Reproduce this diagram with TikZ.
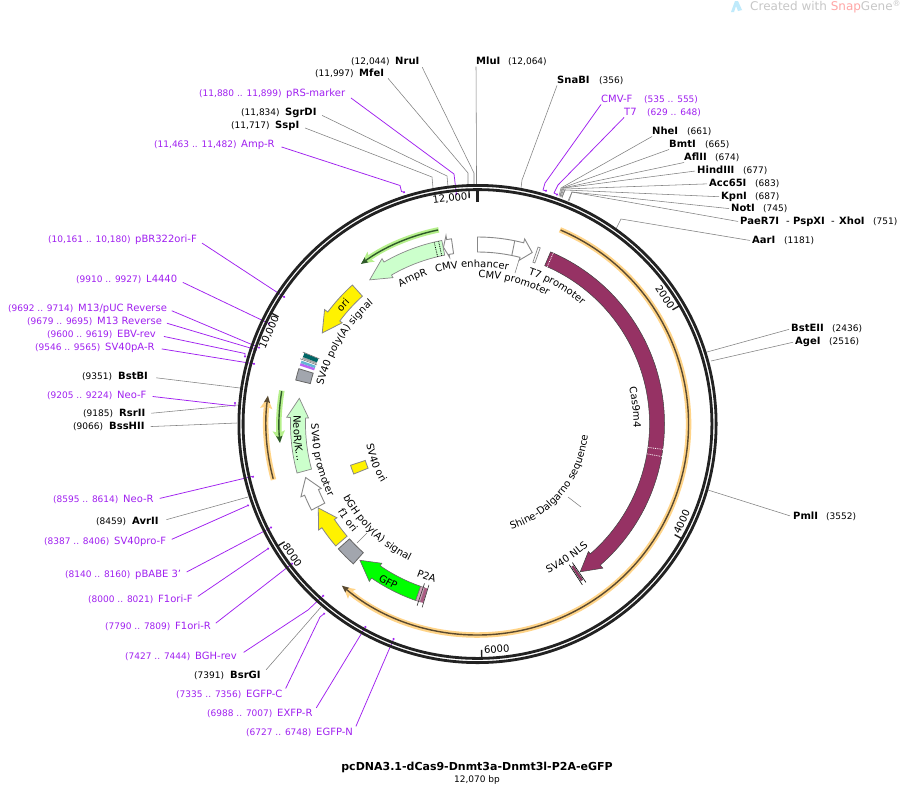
\documentclass[tikz,border=0pt]{standalone}
\usepackage{fontspec}
\setmainfont{DejaVu Sans}
\usetikzlibrary{arrows.meta,decorations.text}
\definecolor{purp}{HTML}{A020F0}
\definecolor{ringc}{HTML}{222222}
\definecolor{featline}{HTML}{888888}
\definecolor{casc}{HTML}{963264}
\definecolor{ampg}{HTML}{CCFFCC}
\definecolor{grayf}{HTML}{A2A6AE}
\definecolor{orL}{HTML}{FFD488}
\definecolor{orD}{HTML}{5A4A30}
\definecolor{grL}{HTML}{B6F08C}
\definecolor{grD}{HTML}{2F5A2A}
\newcommand\fs[1]{\fontsize{#1}{#1}\selectfont}
\tikzset{
  numg/.style={anchor=west,inner sep=0pt,text height=7pt,text depth=2pt,font=\fs{9},yshift=-0.8pt},
  nump/.style={numg,text=purp},
  nameg/.style={anchor=west,inner sep=0pt,text height=7pt,text depth=2pt,font=\fs{10}\bfseries,yshift=-0.8pt},
  namep/.style={anchor=west,inner sep=0pt,text height=7pt,text depth=2pt,font=\fs{10},text=purp,yshift=-0.8pt},
  gline/.style={draw=black!50,line width=0.55pt},
  pline/.style={draw=purp,line width=0.75pt,-{Circle[length=2pt,width=2pt]}},
  leader/.style={draw=black!50,line width=0.55pt},
  fwhite/.style={draw=featline,fill=white,line width=0.9pt,line join=miter},
  fgreen/.style={draw=featline,fill=ampg,line width=0.7pt},
  fyellow/.style={draw=featline,fill=yellow,line width=0.8pt},
  fgray/.style={draw=black!60,fill=grayf,line width=0.8pt},
  fgfp/.style={draw=black!60,fill=green,line width=0.6pt},
  fcas/.style={draw=black!75,fill=casc,line width=0.5pt},
  ticklab/.style={inner sep=0pt,font=\fs{10}},
}
% feature arrow: style, start, end of body, tip (clock angles)
\newcommand\farrow[4]{%
  \pgfmathsetmacro\Aa{90-#2}\pgfmathsetmacro\Ab{90-#3}\pgfmathsetmacro\At{90-#4}%
  \draw[#1] (\Aa:172pt) arc[start angle=\Aa,end angle=\Ab,radius=172pt] -- (\Ab:169pt) -- (\At:180pt) -- (\Ab:191pt) -- (\Ab:187pt) arc[start angle=\Ab,end angle=\Aa,radius=187pt] -- cycle;}
% annular box: style, a1, a2, r1, r2
\newcommand\fbx[5]{%
  \pgfmathsetmacro\Aa{90-#2}\pgfmathsetmacro\Ab{90-#3}%
  \draw[#1] (\Aa:#4pt) arc[start angle=\Aa,end angle=\Ab,radius=#4pt] -- (\Ab:#5pt) arc[start angle=\Ab,end angle=\Aa,radius=#5pt] -- cycle;}
% radial line: style, a, r1, r2
\newcommand\rad[4]{\pgfmathsetmacro\Aa{90-#2}\draw[#1] (\Aa:#3pt) -- (\Aa:#4pt);}
% arc with style: style, a1, a2, r
\newcommand\arcf[4]{%
  \pgfmathsetmacro\Aa{90-#2}\pgfmathsetmacro\Ab{90-#3}%
  \draw[#1] (\Aa:#4pt) arc[start angle=\Aa,end angle=\Ab,radius=#4pt];}
% curved text: radius, a1, a2, text
\newcommand\ctxt[4]{%
  \pgfmathsetmacro\Aa{90-#2}\pgfmathsetmacro\Ab{90-#3}%
  \path[decorate,decoration={text along path,text align=center,text={|\fs{10}|#4}}] (\Aa:#1pt) arc[start angle=\Aa,end angle=\Ab,radius=#1pt];}
% connector: style, node, anchor, middle, end
\newcommand\lk[5]{\coordinate (#2-end) at (#5); \draw[#1] (#2.#3) -- #4 (#2-end);}
\begin{document}
\begin{tikzpicture}[x=1pt,y=1pt]
\useasboundingbox (0,0) rectangle (901,-806);
\fill[white] (0,0) rectangle (901,-806);

% watermark
\fill[cyan!25] (731,-12) -- (735,-1) -- (738,-1) -- (742,-10) -- (738,-11) -- (736,-6) -- (734,-12) -- cycle;
\node[anchor=west,inner sep=0pt,font=\fs{12},text=black!22] (wm) at (750,-7) {Created with \textcolor{red!35}{Snap}Gene\textsuperscript{®}};

% title
\node[inner sep=0pt,font=\fs{11}\bfseries] (title) at (477,-767.5) {pcDNA3.1-dCas9-Dnmt3a-Dnmt3l-P2A-eGFP};
\node[inner sep=0pt,font=\fs{9}] (size) at (477,-780) {12,070 bp};

% site labels, top
\node[numg] (nruiN) at (351,-61) {(12,044)};
\node[nameg] (nrui) at (395,-61) {NruI};
\node[numg] (mfeiN) at (315,-73) {(11,997)};
\node[nameg] (mfei) at (359,-73) {MfeI};
\node[nump] (prsN) at (199,-93) {(11,880 .. 11,899)};
\node[namep] (prs) at (286,-93) {pRS-marker};
\node[numg] (sgrN) at (241,-112) {(11,834)};
\node[nameg] (sgr) at (285,-112) {SgrDI};
\node[numg] (sspN) at (231,-125) {(11,717)};
\node[nameg] (ssp) at (275,-125) {SspI};
\node[nump] (amprN) at (154,-144) {(11,463 .. 11,482)};
\node[namep] (amprl) at (241,-144) {Amp-R};
\node[nameg] (mlu) at (476,-61) {MluI};
\node[numg] (mluN) at (508,-61) {(12,064)};
\node[nameg] (sna) at (557,-80) {SnaBI};
\node[numg] (snaN) at (599,-80) {(356)};
\node[namep] (cmvf) at (601,-99) {CMV-F};
\node[nump] (cmvfN) at (644,-99) {(535 .. 555)};
\node[namep] (tsev) at (624,-112) {T7};
\node[nump] (tsevN) at (647,-112) {(629 .. 648)};
\node[nameg] (nhe) at (652,-131) {NheI};
\node[numg] (nheN) at (687,-131) {(661)};
\node[nameg] (bmt) at (669,-144) {BmtI};
\node[numg] (bmtN) at (705,-144) {(665)};
\node[nameg] (afl) at (684,-157) {AflII};
\node[numg] (aflN) at (715,-157) {(674)};
\node[nameg] (hin) at (697,-170) {HindIII};
\node[numg] (hinN) at (743,-170) {(677)};
\node[nameg] (acc) at (709,-183) {Acc65I};
\node[numg] (accN) at (755,-183) {(683)};
\node[nameg] (kpn) at (721,-196) {KpnI};
\node[numg] (kpnN) at (755,-196) {(687)};
\node[nameg] (not) at (731,-208) {NotI};
\node[numg] (notN) at (763,-208) {(745)};
\node[nameg] (pae) at (740,-221) {PaeR7I};
\node[numg,font=\fs{10}] (dashA) at (786,-221) {-};
\node[nameg] (psp) at (793,-221) {PspXI};
\node[numg,font=\fs{10}] (dashB) at (831,-221) {-};
\node[nameg] (xho) at (839,-221) {XhoI};
\node[numg] (xhoN) at (873,-221) {(751)};
\node[nameg] (aar) at (752,-240) {AarI};
\node[numg] (aarN) at (784,-240) {(1181)};
\node[nameg] (bste) at (791,-328) {BstEII};
\node[numg] (bsteN) at (832,-328) {(2436)};
\node[nameg] (age) at (795,-341) {AgeI};
\node[numg] (ageN) at (829,-341) {(2516)};
\node[nameg] (pml) at (793,-516) {PmlI};
\node[numg] (pmlN) at (826,-516) {(3552)};

% site labels, left
\node[nump] (pbrN) at (48,-239) {(10,161 .. 10,180)};
\node[namep] (pbr) at (135,-239) {pBR322ori-F};
\node[nump] (l44N) at (76,-279) {(9910 .. 9927)};
\node[namep] (l44) at (146,-279) {L4440};
\node[nump] (mpucN) at (8,-308) {(9692 .. 9714)};
\node[namep] (mpuc) at (78,-308) {M13/pUC Reverse};
\node[nump] (mrevN) at (27,-321) {(9679 .. 9695)};
\node[namep] (mrev) at (97,-321) {M13 Reverse};
\node[nump] (ebvN) at (47,-334) {(9600 .. 9619)};
\node[namep] (ebv) at (117,-334) {EBV-rev};
\node[nump] (svpaN) at (35,-347) {(9546 .. 9565)};
\node[namep] (svpa) at (105,-347) {SV40pA-R};
\node[numg] (bstbN) at (82,-376) {(9351)};
\node[nameg] (bstb) at (118,-376) {BstBI};
\node[nump] (neofN) at (47,-395) {(9205 .. 9224)};
\node[namep] (neof) at (117,-395) {Neo-F};
\node[numg] (rsrN) at (83,-413) {(9185)};
\node[nameg] (rsr) at (119,-413) {RsrII};
\node[numg] (bssN) at (73,-426) {(9066)};
\node[nameg] (bss) at (109,-426) {BssHII};
\node[nump] (neorN) at (53,-499) {(8595 .. 8614)};
\node[namep] (neor) at (123,-499) {Neo-R};
\node[numg] (avrN) at (96,-521) {(8459)};
\node[nameg] (avr) at (132,-521) {AvrII};
\node[nump] (svproN) at (44,-541) {(8387 .. 8406)};
\node[namep] (svpro) at (114,-541) {SV40pro-F};
\node[nump] (pbabN) at (65,-574) {(8140 .. 8160)};
\node[namep] (pbab) at (135,-574) {pBABE 3'};
\node[nump] (fofN) at (88,-599) {(8000 .. 8021)};
\node[namep] (fof) at (158,-599) {F1ori-F};
\node[nump] (forN) at (105,-626) {(7790 .. 7809)};
\node[namep] (for) at (175,-626) {F1ori-R};
\node[nump] (bghN) at (125,-656) {(7427 .. 7444)};
\node[namep] (bgh) at (195,-656) {BGH-rev};
\node[numg] (bsrN) at (194,-675) {(7391)};
\node[nameg] (bsr) at (230,-675) {BsrGI};
\node[nump] (egcN) at (176,-694) {(7335 .. 7356)};
\node[namep] (egc) at (246,-694) {EGFP-C};
\node[nump] (exfN) at (207,-713) {(6988 .. 7007)};
\node[namep] (exf) at (277,-713) {EXFP-R};
\node[nump] (egnN) at (246,-732) {(6727 .. 6748)};
\node[namep] (egn) at (316,-732) {EGFP-N};

% connectors (gray)
\lk{gline,shorten <=6pt}{nrui}{east}{(474,-173) --}{474,-186}
\lk{gline,shorten <=6pt}{mfei}{east}{(468,-173) --}{468,-186}
\lk{gline,shorten <=6pt}{sgr}{east}{(447,-176) --}{448,-187}
\lk{gline,shorten <=6pt}{ssp}{east}{(432,-177) --}{433,-188}
\lk{gline}{mlu}{south west}{(476.5,-173) --}{476.5,-186}
\lk{gline}{sna}{south west}{(522,-180) --}{521,-188}
\lk{gline}{nhe}{south west}{(561,-188) --}{559,-196}
\lk{gline}{bmt}{south west}{(562,-188) --}{560,-196}
\lk{gline}{afl}{south west}{(563,-188) --}{560,-197}
\lk{gline,shorten <=2pt}{hin}{west}{(564,-188) --}{561,-197}
\lk{gline,shorten <=2pt}{acc}{west}{(565,-189) --}{562,-197}
\lk{gline,shorten <=2pt}{kpn}{west}{(565,-190) --}{562,-198}
\lk{gline,shorten <=2pt}{not}{west}{(572,-192) --}{568,-201}
\lk{gline,shorten <=2pt}{pae}{west}{(572,-192) --}{569,-201}
\lk{gline,shorten <=2pt}{aar}{west}{(621,-219) --}{616,-229}
\lk{gline,shorten <=2pt}{bste}{west}{}{707,-352}
\lk{gline,shorten <=2pt}{age}{west}{}{711,-361}
\lk{gline,shorten <=3pt}{pml}{west}{}{708,-490}
\lk{gline,shorten <=8pt}{bstb}{east}{}{240,-388}
\lk{gline,shorten <=6pt}{rsr}{east}{}{238,-405}
\lk{gline,shorten <=6pt}{bss}{east}{}{237,-423}
\lk{gline,shorten <=8pt}{avr}{east}{}{248,-497}
\lk{gline,shorten <=8pt}{bsr}{east}{}{321,-607}

% connectors (purple)
\lk{pline,shorten <=7pt}{prs}{east}{(454,-174) --}{456.5,-195}
\lk{pline,shorten <=7pt}{amprl}{east}{(400,-185.5) -- (401.5,-191.5) --}{405,-192.5}
\lk{pline}{cmvf}{south west}{(545,-183) -- (543,-190) --}{547,-191}
\lk{pline}{tsev}{south west}{(558,-185) -- (554,-193) --}{558,-195}
\lk{pline,shorten <=6pt}{pbr}{east}{}{285,-297.5}
\lk{pline,shorten <=6pt}{l44}{east}{}{270,-324}
\lk{pline,shorten <=5pt}{mpuc}{east}{}{260,-348}
\lk{pline,shorten <=5pt}{mrev}{east}{}{257,-350}
\lk{pline,shorten <=8pt}{ebv}{east}{(245,-353.5) --}{245,-357.5}
\lk{pline,shorten <=7pt}{svpa}{east}{}{255,-364}
\lk{pline,shorten <=6pt}{neof}{east}{(235,-406) --}{235,-402}
\lk{pline,shorten <=6pt}{neor}{east}{(252,-476.5) --}{254,-477}
\lk{pline,shorten <=6pt}{svpro}{east}{}{249,-505}
\lk{pline,shorten <=6pt}{pbab}{east}{}{272,-527}
\lk{pline,shorten <=6pt}{fof}{east}{}{269,-548}
\lk{pline,shorten <=6pt}{for}{east}{}{293,-563}
\lk{pline,shorten <=8pt}{bgh}{east}{(308,-610) --}{324,-595}
\lk{pline,shorten <=7pt}{egc}{east}{(320,-617) --}{325,-613}
\lk{pline,shorten <=7pt}{exf}{east}{}{366,-626}
\lk{pline,shorten <=7pt}{egn}{east}{}{394,-638}

\begin{scope}[shift={(477.5,-424)}]
% ring
\draw[ringc,line width=2.8pt] (0,0) circle[radius=238.6pt];
\draw[ringc,line width=2.8pt] (0,0) circle[radius=234.4pt];
% ticks
\rad{ringc,line width=3pt}{0}{222}{234}
\rad{ringc,line width=1.4pt}{59.65}{226}{234}
\rad{ringc,line width=1.4pt}{119.3}{226}{234}
\rad{ringc,line width=1.4pt}{178.96}{226}{234}
\rad{ringc,line width=1.4pt}{238.6}{226}{234}
\rad{ringc,line width=1.4pt}{298.3}{226}{234}
\rad{ringc,line width=1.4pt}{357.9}{226}{234}

% long orange arcs
\arcf{orL,line width=5.5pt,-{Stealth[length=11pt,width=12pt,inset=2pt]}}{23}{219.5}{211}
\arcf{orD,line width=1.4pt,-{Stealth[length=7pt,width=6pt,inset=1pt]}}{23.2}{220}{211}
\arcf{orL,line width=5.5pt,-{Stealth[length=11pt,width=12pt,inset=2pt]}}{254.7}{277.2}{211.5}
\arcf{orD,line width=1.4pt,-{Stealth[length=7pt,width=6pt,inset=1pt]}}{255}{277.7}{211.5}
% green arcs
\arcf{grL,line width=5.5pt,-{Stealth[length=11pt,width=12pt,inset=2pt]}}{348.7}{324.3}{198}
\arcf{grD,line width=1.4pt,-{Stealth[length=7pt,width=6pt,inset=1pt]}}{348.5}{323.9}{198}
\arcf{grL,line width=5.5pt,-{Stealth[length=11pt,width=12pt,inset=2pt]}}{279.7}{264.8}{198.5}
\arcf{grD,line width=1.4pt,-{Stealth[length=7pt,width=6pt,inset=1pt]}}{279.5}{264.5}{198.5}

% Cas9m4
\farrow{fcas}{23}{139}{145.2}
\rad{white,densely dotted,line width=0.8pt}{23.9}{172}{187}
\rad{white,densely dotted,line width=0.8pt}{97.8}{172}{187}
\rad{white,densely dotted,line width=0.8pt}{100}{172}{187}
% SV40 NLS
\rad{black,line width=0.6pt}{145.6}{168}{192}
\fbx{draw=black!70,fill=casc,line width=0.3pt}{145.9}{146.6}{171}{188}
\rad{black,line width=0.6pt}{146.9}{168}{192}
% T7 promoter
\fbx{fwhite,line width=0.7pt}{18.9}{19.6}{171}{187}
% CMV
\farrow{fwhite}{0}{14.3}{17.7}
\rad{draw=featline,line width=0.9pt}{11.5}{172}{187}
% AmpR promoter and AmpR
\farrow{fwhite}{-8}{-9.5}{-10.9}
\farrow{fgreen}{-11}{-30}{-36.8}
\rad{black,densely dotted,line width=0.8pt}{-13.4}{172}{187}
\rad{black,densely dotted,line width=0.8pt}{-12}{172}{187}
% ori
\farrow{fyellow}{318}{306.8}{300.4}
% SV40 polyA and neighbours
\fbx{fgray}{283.6}{287.2}{172}{187}
\fbx{draw=none,fill=purp!70}{288.2}{289}{172}{187}
\fbx{draw=none,fill=cyan!55!teal!70}{289}{289.8}{172}{187}
\rad{black!60,line width=0.5pt}{290.2}{171}{189}
\fbx{draw=none,fill=black!35}{290.4}{291}{172}{187}
\fbx{draw=none,fill=teal!80!black}{291}{292.3}{172}{187}
\rad{black!60,line width=0.5pt}{292.4}{171}{189}
% NeoR/K
\farrow{fgreen}{254.8}{272}{278.2}
% SV40 promoter
\farrow{fwhite}{242.6}{247.6}{252.7}
% f1 ori
\farrow{fyellow}{229.3}{236.3}{242.2}
% bGH polyA
\fbx{fgray}{221.6}{228.1}{172}{187}
% GFP
\farrow{fgfp}{199.3}{214.5}{220.8}
% P2A
\fbx{draw=black!60,fill=casc!45,line width=0.4pt}{197.8}{199.3}{172}{187}
\fbx{draw=none,fill=casc!80}{196.9}{197.8}{172}{187}
\rad{black!80,line width=0.6pt}{196.8}{168}{191.5}
\rad{black!80,line width=0.6pt}{198.4}{168}{191.5}
% SV40 ori
\fbx{fyellow}{248}{252}{118}{133.5}

% feature labels
\ctxt{157}{-16.5}{12.5}{CMV enhancer}
\ctxt{146}{-1}{30}{CMV promoter}
\ctxt{158}{17}{43}{T7 promoter}
\ctxt{157}{-33}{-15}{AmpR}
\ctxt{159}{-78}{-39}{SV40 poly(A) signal}
\ctxt{166}{272}{242}{SV40 promoter}
\ctxt{153}{244}{204}{bGH poly(A) signal}
\ctxt{165}{240}{227}{f1 ori}
\ctxt{164}{204}{193}{P2A}
\ctxt{165}{157}{135.5}{SV40 NLS}
\ctxt{111}{166}{92}{Shine-Dalgarno sequence}
\ctxt{113}{264}{234}{SV40 ori}
\ctxt{184}{275.5}{255.5}{NeoR/K...}
\ctxt{156}{74}{94}{Cas9m4}
\ctxt{185}{216}{203}{GFP}
\ctxt{176}{-56}{-41}{ori}
\end{scope}

% leaders
\coordinate (lCa) at (519,-260); \coordinate (lCb) at (515,-273);
\draw[leader] (lCa) -- (lCb);
\coordinate (lBa) at (357,-543); \coordinate (lBb) at (367,-533);
\draw[leader] (lBa) -- (lBb);
\coordinate (lSa) at (568,-497); \coordinate (lSb) at (581,-507);
\draw[leader] (lSa) -- (lSb);

% tick labels
\node[ticklab,rotate=7] (t12) at (450,-198.5) {12,000};
\node[ticklab,rotate=-56] (t2) at (665,-297) {2000};
\node[ticklab,rotate=65] (t4) at (681.7,-521.7) {4000};
\node[ticklab,rotate=4] (t6) at (496.7,-649.3) {6000};
\node[ticklab,rotate=-55] (t8) at (292.3,-555) {8000};
\node[ticklab,rotate=66] (t10) at (269.3,-332.3) {10,000};
\end{tikzpicture}
\end{document}
